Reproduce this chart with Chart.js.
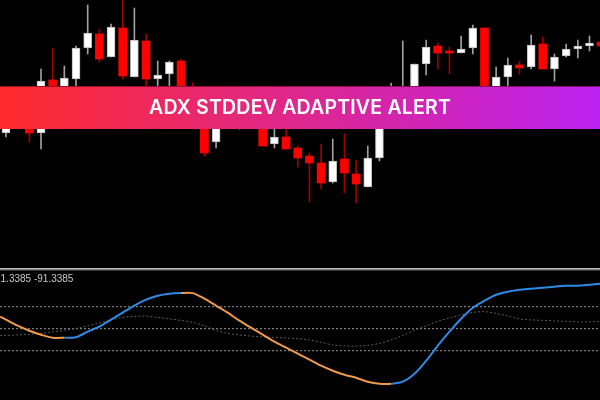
<!DOCTYPE html>
<html>
<head>
<meta charset="utf-8">
<script src="https://cdn.jsdelivr.net/npm/chart.js@4/dist/chart.umd.min.js"></script>
<style>
  html, body { margin: 0; padding: 0; background: #000; }
  #wrap { position: relative; width: 600px; height: 400px; overflow: hidden; background: #000; }
  #priceCanvas { position: absolute; left: 0; top: 0; }
  #indCanvas { position: absolute; left: 0; top: 272px; }
  #sep { position: absolute; left: 0; top: 268px; width: 600px; height: 1px; background: #c4c4c4;
         box-shadow: 0 1px 0 #7a7a7a, 0 2px 0 #3a3a3a; }
  #banner { position: absolute; left: 0; top: 86px; width: 600px; height: 43px;
            background: linear-gradient(90deg, #ff2b2b 0%, #bc22f2 100%);
            border-top: 1px solid rgba(90,0,20,0.6);
            display: flex; align-items: center; justify-content: center;
            color: #fff; font-family: Inter, "Open Sans", sans-serif; font-weight: 600;
            font-size: 19.5px; letter-spacing: 0.2px; box-sizing: border-box; padding-bottom: 3px; }
  #indLabel { position: absolute; left: -5px; top: 273px; color: #c8c8c8;
              font-family: "Liberation Sans", Arial, sans-serif; font-size: 10px; line-height: 12px;
              white-space: nowrap; }
</style>
</head>
<body>
<div id="wrap">
  <canvas id="priceCanvas" width="600" height="268"></canvas>
  <div id="sep"></div>
  <canvas id="indCanvas" width="600" height="128"></canvas>
  <div id="banner">ADX STDDEV ADAPTIVE ALERT</div>
  <div id="indLabel">91.3385 -91.3385</div>
</div>
<script>
// ---- Candles (bar index 0..51) ----
const opens  = [135,170,156,135,188,170,189,220,234,211,240,191,227,189,194,207,173,153,126,150,142,160,150,124,131,120,112,105,86,109,94,81,110,148,143,168,204,222,217,215,220,240,168,191,203,201,224,199,212,219,222,226];
const highs  = [173,176,163,199,220,202,222,263,239,244,268,260,234,207,207,209,185,160,153,158,168,170,156,140,143,122,115,124,129,134,108,122,160,185,227,204,228,225,221,232,243,240,201,210,207,233,231,214,224,228,232,230];
const lows   = [131,148,126,119,163,166,180,214,206,211,189,191,180,176,176,163,150,112,120,140,139,142,122,120,119,101,66,79,85,75,65,81,107,143,140,163,193,199,194,215,214,158,165,182,194,199,199,187,211,210,217,218];
const closes = [168,156,135,187,168,190,220,235,209,241,192,228,189,193,206,168,158,115,148,143,156,148,122,131,119,110,105,85,107,95,84,110,153,168,173,204,221,215,215,219,240,163,191,203,200,223,199,211,219,222,225,222];

// ---- Indicator pane ----
const indX = [-0.5,0,1,2,3,4,5,6,7,8,9,10,11,12,13,14,15,16,17,18,19,20,21,22,23,24,25,26,27,28,29,30,31,32,33,34,35,36,37,38,39,40,41,42,43,44,45,46,47,48,49,50,50.9];
const adxLine = [12,9,3,-2,-6,-9,-9,-8.5,-3,2,9,16,23,29,33,35,35.6,35.6,30,23,16,8,1,-6,-13,-19,-25,-31,-37,-42,-46,-49,-53,-55,-55,-53,-45,-32,-17,-3,10,21,28,34,37,39,40,41,42,43,43,44,45];
const trend = [-1,-1,-1,-1,-1,-1,-1,1,1,1,1,1,1,1,1,1,1,-1,-1,-1,-1,-1,-1,-1,-1,-1,-1,-1,-1,-1,-1,-1,-1,-1,-1,1,1,1,1,1,1,1,1,1,1,1,1,1,1,1,1,1,1];
const signalLine = [-6.7,-6.7,-6.2,-5.7,-4.7,-3.2,-1.7,0.3,2.8,5.8,8.8,11.3,12.3,12.6,11.3,9.8,8.3,6.3,2.8,-1.7,-4.7,-6.2,-7.4,-8.2,-8.7,-9.2,-10,-11.2,-13.7,-16.2,-17.2,-17.4,-16.7,-14.7,-11.2,-6.7,-1.7,2.8,7.3,10.8,13.8,16.3,17,15.3,12.8,9.8,8.8,8.3,7.8,7.3,6.8,6.8,7.3];
const levels = [22, 0, -22];

const X_MIN = -0.514, X_MAX = 50.9;

const whiteBodies = [], redBodies = [], whiteWicks = [], redWicks = [];
opens.forEach((o, i) => {
  const c = closes[i];
  if (c >= o) {
    whiteBodies.push({x: i, y: [o, c]});
    whiteWicks.push({x: i, y: [lows[i], highs[i]]});
  } else {
    redBodies.push({x: i, y: [c, o]});
    redWicks.push({x: i, y: [lows[i], highs[i]]});
  }
});

const common = {
  responsive: false,
  animation: false,
  devicePixelRatio: 1,
  layout: { padding: 0 },
  plugins: { legend: { display: false }, tooltip: { enabled: false }, title: { display: false } },
  events: []
};

new Chart(document.getElementById('priceCanvas'), {
  type: 'bar',
  data: {
    datasets: [
      { data: whiteBodies, backgroundColor: '#ffffff', borderColor: '#b8b8b8', borderWidth: 1, barThickness: 8, grouped: false, borderSkipped: false },
      { data: redBodies, backgroundColor: '#ff0000', borderWidth: 0, barThickness: 8, grouped: false },
      { data: whiteWicks, backgroundColor: '#a0a0a0', borderWidth: 0, barThickness: 1, grouped: false },
      { data: redWicks, backgroundColor: '#a00000', borderWidth: 0, barThickness: 1, grouped: false }
    ]
  },
  options: Object.assign({}, common, {
    scales: {
      x: { type: 'linear', min: X_MIN, max: X_MAX, display: false, offset: false },
      y: { min: 0, max: 268, display: false }
    }
  })
});

const levelSets = levels.map(v => ({
  type: 'line',
  data: [{x: X_MIN, y: v}, {x: X_MAX, y: v}],
  borderColor: '#9a9a9a', borderWidth: 1, borderDash: [2, 2], pointRadius: 0
}));

new Chart(document.getElementById('indCanvas'), {
  type: 'line',
  data: {
    datasets: [
      {
        data: indX.map((x, i) => ({x, y: adxLine[i]})),
        borderWidth: 2, pointRadius: 0, tension: 0.3,
        borderColor: '#2f8ae6',
        segment: { borderColor: ctx => trend[ctx.p1DataIndex] > 0 ? '#2f8ae6' : '#ee9a4e' }
      },
      {
        data: indX.map((x, i) => ({x, y: signalLine[i]})),
        borderColor: '#5c5c5c', borderWidth: 1, borderDash: [2, 2], pointRadius: 0, tension: 0.3
      },
      ...levelSets
    ]
  },
  options: Object.assign({}, common, {
    scales: {
      x: { type: 'linear', min: X_MIN, max: X_MAX, display: false },
      y: { min: -71.3, max: 56.7, display: false }
    }
  })
});
</script>
</body>
</html>
